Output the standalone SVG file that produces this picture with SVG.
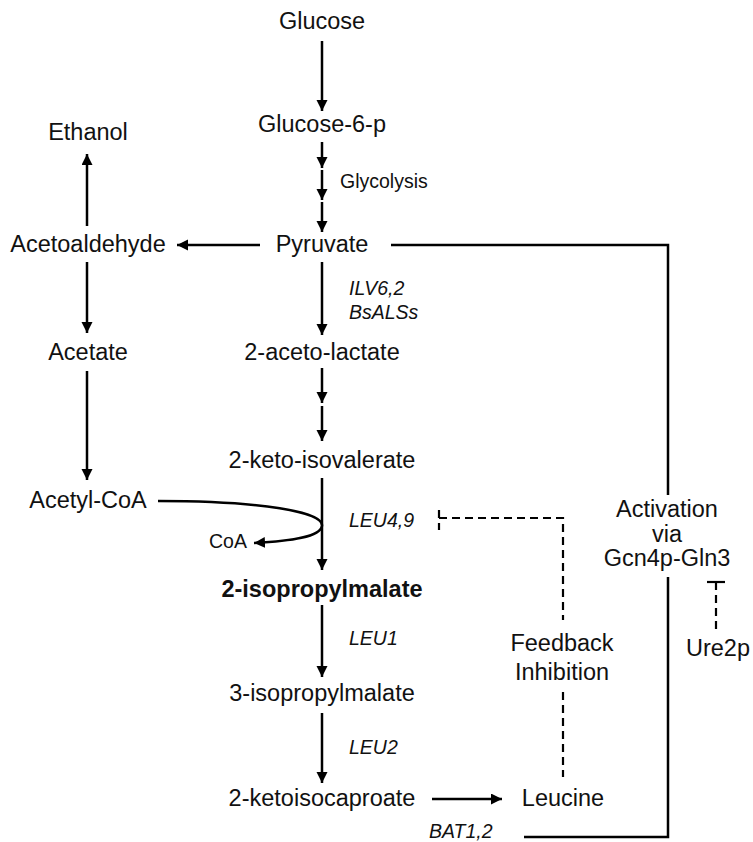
<svg xmlns="http://www.w3.org/2000/svg" width="753" height="842" viewBox="0 0 753 842">
<defs>
<style>
text{font-family:"Liberation Sans",Arial,sans-serif;fill:#111}
.m{font-size:23.5px;text-anchor:middle}
.s{font-size:19.5px}
.i{font-size:19.5px;font-style:italic}
.b{font-weight:bold}
.ln{stroke:#000;stroke-width:2.5;fill:none}
.ar{stroke:#000;stroke-width:2.5;fill:none;marker-end:url(#ah)}
.ds{stroke:#000;stroke-width:2.2;fill:none;stroke-dasharray:8,5}
</style>
<marker id="ah" markerWidth="12" markerHeight="12" refX="11" refY="5.5" orient="auto" markerUnits="userSpaceOnUse">
<path d="M0,0 L11,5.5 L0,11 z" fill="#000"/>
</marker>
</defs>
<rect width="753" height="842" fill="#fff"/>
<g id="connectors">
<line class="ar" x1="322" y1="41" x2="322" y2="111"/>
<line class="ar" x1="322" y1="142" x2="322" y2="168"/>
<line class="ar" x1="322" y1="170" x2="322" y2="200"/>
<line class="ar" x1="322" y1="202" x2="322" y2="232"/>
<line class="ar" x1="260" y1="245" x2="177" y2="245"/>
<line class="ar" x1="87" y1="226" x2="87" y2="154"/>
<line class="ar" x1="87" y1="262" x2="87" y2="333"/>
<line class="ar" x1="87" y1="371" x2="87" y2="480"/>
<line class="ar" x1="322" y1="262" x2="322" y2="335"/>
<line class="ar" x1="322" y1="368" x2="322" y2="403"/>
<line class="ar" x1="322" y1="406" x2="322" y2="441"/>
<line class="ar" x1="322" y1="478" x2="322" y2="570"/>
<path class="ar" d="M158,501 C262,501 324,512 322,526 C320,537 292,541 254,543"/>
<line class="ar" x1="322" y1="605" x2="322" y2="677"/>
<line class="ar" x1="322" y1="713" x2="322" y2="783"/>
<line class="ar" x1="432" y1="799" x2="502" y2="799"/>
<polyline class="ln" points="391,245 668,245 668,495"/>
<polyline class="ln" points="524,837 668,837 668,577"/>
<line class="ds" x1="439" y1="510" x2="439" y2="530"/>
<polyline class="ds" points="439,518 563,518 563,620"/>
<line class="ds" x1="563" y1="692" x2="563" y2="777"/>
<line class="ln" x1="707" y1="582" x2="725" y2="582" style="stroke-width:2.2"/>
<line class="ds" x1="716" y1="582" x2="716" y2="633"/>
</g>
<g id="glucose"><text class="m" x="322" y="29">Glucose</text></g>
<g id="glucose6p"><text class="m" x="322" y="132">Glucose-6-p</text></g>
<g id="glycolysis"><text class="s" x="340" y="188">Glycolysis</text></g>
<g id="pyruvate"><text class="m" x="322" y="252">Pyruvate</text></g>
<g id="ethanol"><text class="m" x="88" y="140">Ethanol</text></g>
<g id="acetoaldehyde"><text class="m" x="88" y="252">Acetoaldehyde</text></g>
<g id="acetate"><text class="m" x="88" y="360">Acetate</text></g>
<g id="acetylcoa"><text class="m" x="88" y="508">Acetyl-CoA</text></g>
<g id="coa"><text class="s" x="209" y="548">CoA</text></g>
<g id="ilv"><text class="i" x="349" y="295">ILV6,2</text><text class="i" x="349" y="319">BsALSs</text></g>
<g id="acetolactate"><text class="m" x="322" y="360">2-aceto-lactate</text></g>
<g id="ketoisovalerate"><text class="m" x="322" y="468">2-keto-isovalerate</text></g>
<g id="leu49"><text class="i" x="349" y="527">LEU4,9</text></g>
<g id="ipm2"><text class="m b" x="322" y="597">2-isopropylmalate</text></g>
<g id="leu1"><text class="i" x="349" y="645">LEU1</text></g>
<g id="ipm3"><text class="m" x="322" y="701">3-isopropylmalate</text></g>
<g id="leu2"><text class="i" x="349" y="754">LEU2</text></g>
<g id="ketoisocaproate"><text class="m" x="322" y="806">2-ketoisocaproate</text></g>
<g id="bat"><text class="i" x="429" y="838">BAT1,2</text></g>
<g id="leucine"><text class="m" x="563" y="806">Leucine</text></g>
<g id="feedback"><text class="m" x="562" y="651">Feedback</text><text class="m" x="562" y="680">Inhibition</text></g>
<g id="activation"><text class="m" x="667" y="517">Activation</text><text class="m" x="667" y="542">via</text><text class="m" x="667" y="566">Gcn4p-Gln3</text></g>
<g id="ure2p"><text class="m" x="718" y="656">Ure2p</text></g>
</svg>
